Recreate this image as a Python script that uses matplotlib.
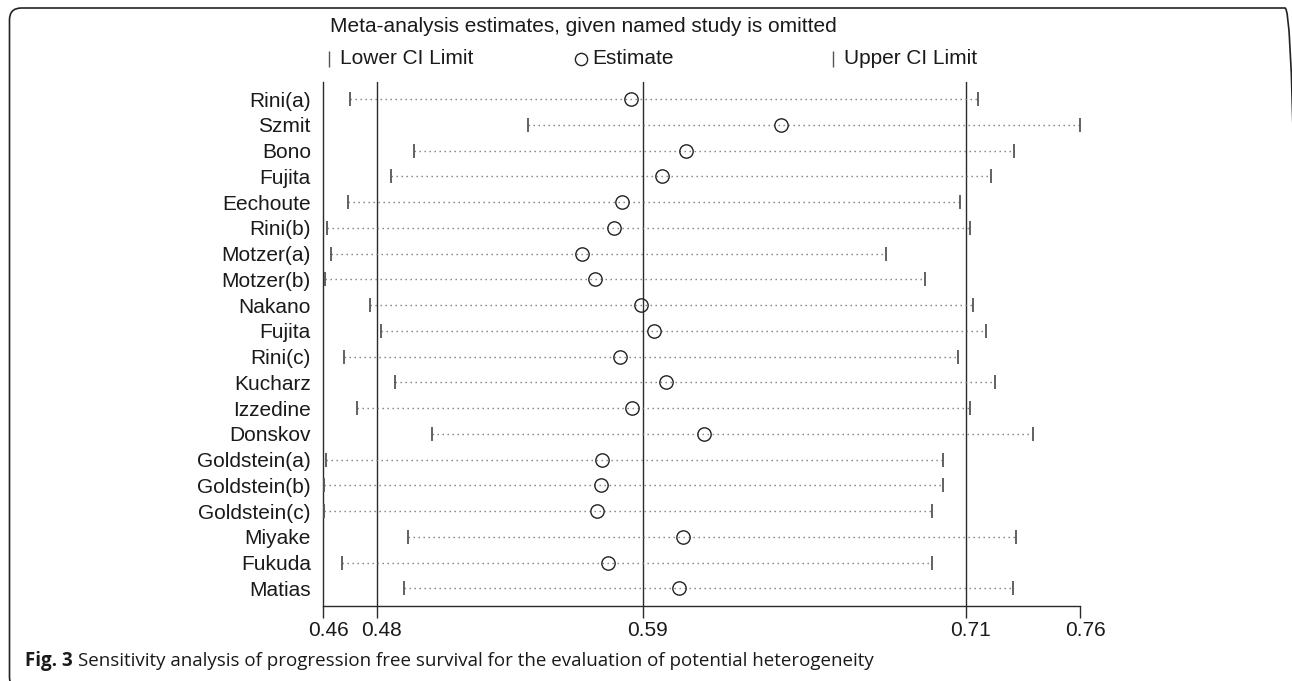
import matplotlib
matplotlib.use("Agg")
import numpy as np
import matplotlib.pyplot as plt
import matplotlib.transforms as mtransforms
from matplotlib.patches import FancyBboxPatch
from matplotlib.lines import Line2D

plt.rcParams['font.family'] = ['Liberation Sans', 'DejaVu Sans']

# ---------------- data ----------------
studies = ["Rini(a)", "Szmit", "Bono", "Fujita", "Eechoute", "Rini(b)", "Motzer(a)",
           "Motzer(b)", "Nakano", "Fujita", "Rini(c)", "Kucharz", "Izzedine", "Donskov",
           "Goldstein(a)", "Goldstein(b)", "Goldstein(c)", "Miyake", "Fukuda", "Matias"]
lower = [0.4706, 0.5411, 0.4959, 0.4870, 0.4697, 0.4615, 0.4631, 0.4608, 0.4784, 0.4829,
         0.4683, 0.4883, 0.4734, 0.5031, 0.4609, 0.4603, 0.4601, 0.4934, 0.4674, 0.4918]
estimate = [0.5821, 0.6415, 0.6036, 0.5943, 0.5785, 0.5751, 0.5626, 0.5677, 0.5860, 0.5909,
            0.5776, 0.5958, 0.5823, 0.6109, 0.5705, 0.5701, 0.5685, 0.6024, 0.5727, 0.6010]
upper = [0.7193, 0.7600, 0.7339, 0.7247, 0.7123, 0.7162, 0.6830, 0.6985, 0.7173, 0.7225,
         0.7117, 0.7263, 0.7162, 0.7413, 0.7055, 0.7055, 0.7012, 0.7344, 0.7012, 0.7335]
combined = [0.4812, 0.5866, 0.7146]          # overall lower CI, estimate, upper CI
tick_values = [0.46, 0.4812, 0.5866, 0.7146, 0.76]
tick_labels = ["0.46", "0.48", "0.59", "0.71", "0.76"]

title = "Meta-analysis estimates, given named study is omitted"
legend_labels = ["Lower CI Limit", "Estimate", "Upper CI Limit"]
caption_bold = "Fig. 3"
caption_text = "Sensitivity analysis of progression free survival for the evaluation of potential heterogeneity"

# ---------------- figure ----------------
W, H = 1292, 681
fig = plt.figure(figsize=(W / 100, H / 100), dpi=100)
TXT = '#1a1a1a'

ax_l, ax_r, ax_t, ax_b = 323.3, 1080.3, 82, 606
ax = fig.add_axes([ax_l / W, 1 - ax_b / H, (ax_r - ax_l) / W, (ax_b - ax_t) / H])

y = np.arange(len(studies))
for yi, lo, hi in zip(y, lower, upper):
    ax.plot([lo, hi], [yi, yi], color='#7a7a7a', lw=1.0, linestyle=(0, (1, 2.6)),
            clip_on=False, zorder=2)
ax.plot(lower, y, linestyle='none', marker='|', ms=10.5, mew=1.3, color='#555555',
        clip_on=False, zorder=3)
ax.plot(upper, y, linestyle='none', marker='|', ms=10.5, mew=1.3, color='#555555',
        clip_on=False, zorder=3)
ax.plot(estimate, y, linestyle='none', marker='o', ms=9.6, mfc='none', mec='#222222',
        mew=1.0, clip_on=False, zorder=4)

for v in combined:
    ax.axvline(v, color='#2a2a2a', lw=1.0, zorder=1)

ax.set_xlim(0.46, 0.76)
ax.set_ylim(len(studies) - 1 + 0.68, -0.66)

for s in ['top', 'right']:
    ax.spines[s].set_visible(False)
for s in ['left', 'bottom']:
    ax.spines[s].set_color('#2a2a2a')
    ax.spines[s].set_linewidth(1.0)

ax.set_xticks(tick_values)
ax.set_xticklabels(tick_labels)
ax.tick_params(axis='x', length=8.6, width=1.0, color='#2a2a2a', pad=2.5,
               labelsize=15, labelcolor=TXT)
ax.set_yticks(y)
ax.set_yticklabels(studies)
ax.tick_params(axis='y', length=0, pad=9, labelsize=15, labelcolor=TXT)

shift = mtransforms.ScaledTranslation(5 / 100, 0, fig.dpi_scale_trans)
for lbl in ax.get_xticklabels():
    lbl.set_transform(lbl.get_transform() + shift)

# ---------------- header / legend ----------------
def fx(px):
    return px / W

def fy(py):
    return 1 - py / H

fig.text(fx(330), fy(26), title, fontsize=15, color=TXT, va='center', ha='left')
leg_y = 59
fig.add_artist(Line2D([fx(328.7)], [fy(leg_y)], marker='|', ms=11, mew=1.0, color='#555555',
                      linestyle='none', transform=fig.transFigure))
fig.text(fx(340), fy(leg_y), legend_labels[0], fontsize=15, color=TXT, va='center')
fig.add_artist(Line2D([fx(581)], [fy(leg_y)], marker='o', ms=8.8, mfc='none', mec='#222222',
                      mew=1.0, linestyle='none', transform=fig.transFigure))
fig.text(fx(592), fy(leg_y), legend_labels[1], fontsize=15, color=TXT, va='center')
fig.add_artist(Line2D([fx(832.7)], [fy(leg_y)], marker='|', ms=11, mew=1.0, color='#555555',
                      linestyle='none', transform=fig.transFigure))
fig.text(fx(844), fy(leg_y), legend_labels[2], fontsize=15, color=TXT, va='center')

# ---------------- caption ----------------
cap_y = 661
cap1 = fig.text(fx(25), fy(cap_y), caption_bold, fontsize=13.5, fontweight='bold',
                family=['Open Sans', 'DejaVu Sans'], color=TXT, va='center')
fig.canvas.draw()
bb = cap1.get_window_extent()
fig.text((bb.x1 + 5) / W, fy(cap_y), caption_text, fontsize=13.5,
         family=['Open Sans', 'DejaVu Sans'], color=TXT, va='center')

# ---------------- frame ----------------
frame = FancyBboxPatch((9.5, -8), 1297 - 9.5, 673 + 8, boxstyle='round,pad=0,rounding_size=12',
                       transform=mtransforms.IdentityTransform(), fill=False,
                       edgecolor='#222222', lw=1.2)
fig.add_artist(frame)

fig.savefig('out.png', dpi=100)
